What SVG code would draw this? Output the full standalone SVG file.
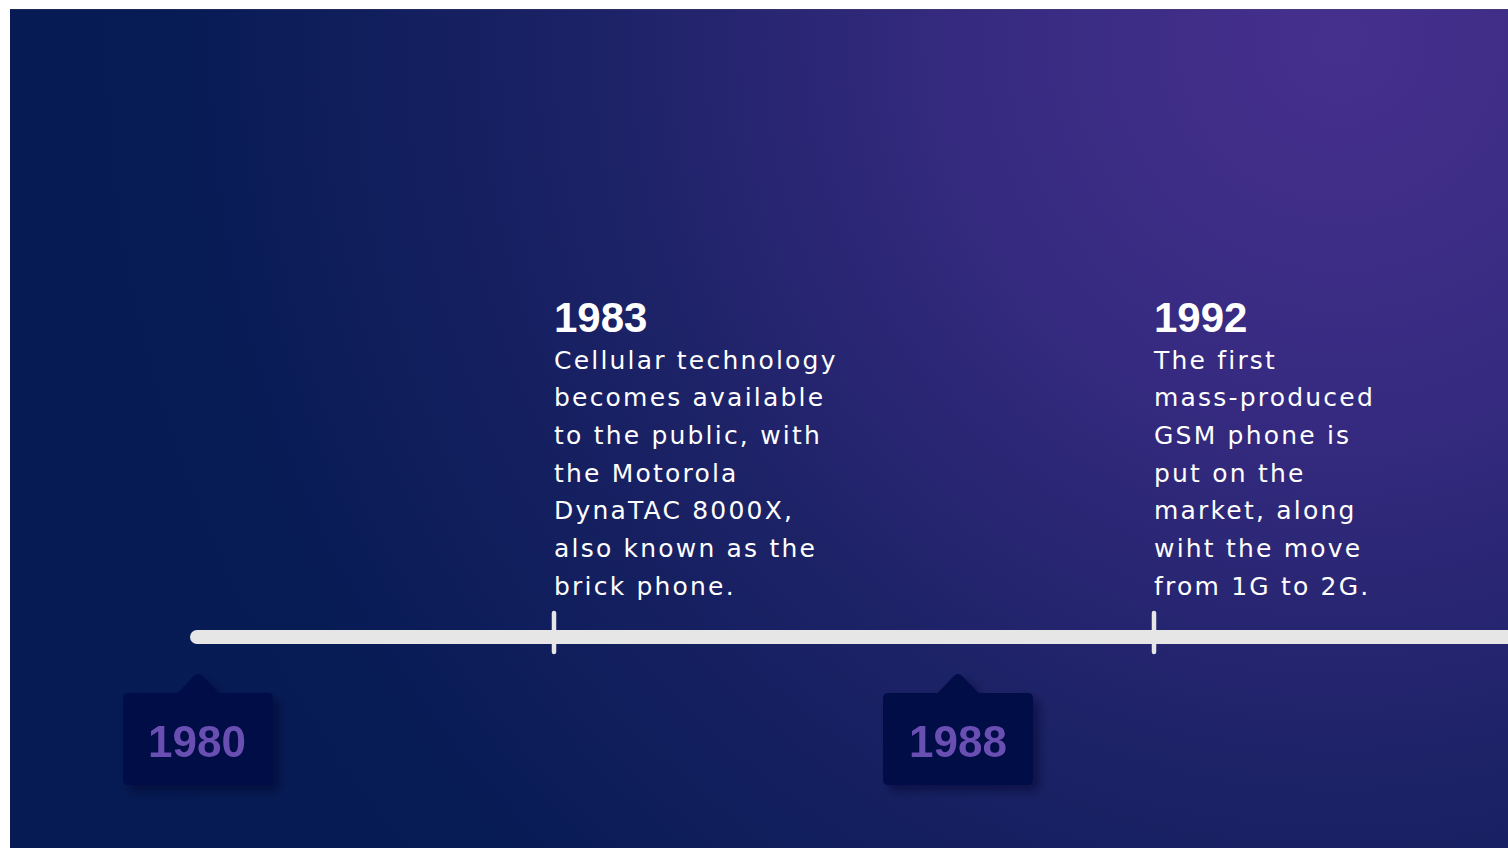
<svg xmlns="http://www.w3.org/2000/svg" width="1508" height="848" viewBox="0 0 1508 848">
<defs>
<radialGradient id="bg" gradientUnits="userSpaceOnUse" cx="1340" cy="40" r="1500">
<stop offset="0" stop-color="#46308e"/>
<stop offset="0.25" stop-color="#362a80"/>
<stop offset="0.5" stop-color="#1c2266"/>
<stop offset="0.78" stop-color="#071b55"/>
<stop offset="1" stop-color="#061a53"/>
</radialGradient>
<filter id="sh" x="-30%" y="-30%" width="160%" height="160%">
<feDropShadow dx="6" dy="6" stdDeviation="5" flood-color="#000020" flood-opacity="0.45"/>
</filter>
</defs>
<style>
.title{font-family:"Liberation Sans",Arial,sans-serif;font-weight:bold;font-size:42px;fill:#ffffff}
.body{font-family:"DejaVu Sans",sans-serif;font-size:25px;letter-spacing:2.2px;fill:#ffffff}
.box{fill:#020a46}
.lbl{font-family:"Liberation Sans",Arial,sans-serif;font-weight:bold;font-size:44px;fill:#6a4fb3;text-anchor:middle}
.tick{stroke:#e6e6e6;stroke-width:4.5;stroke-linecap:round}
</style>
<rect x="0" y="0" width="1508" height="848" fill="#ffffff"/>
<rect x="10" y="9" width="1498" height="839" fill="url(#bg)"/>
<line x1="10" y1="9.3" x2="1508" y2="9.3" stroke="#555" stroke-width="0.6" opacity="0.6"/>

<g id="connectors">
<rect x="190" y="630" width="1330" height="14" rx="7" fill="#e6e6e6"/>
<line class="tick" x1="554" y1="613" x2="554" y2="652"/>
<line class="tick" x1="1154" y1="613" x2="1154" y2="652"/>
</g>

<g id="node-1980" filter="url(#sh)">
<path class="box" d="M176.5,694 L194,676 Q198,672 202,676 L219.5,694 Z"/>
<rect class="box" x="123" y="693" width="150" height="92" rx="5"/>
<text class="lbl" x="197" y="757">1980</text>
</g>

<g id="node-1988" filter="url(#sh)">
<path class="box" d="M936.5,694 L954,676 Q958,672 962,676 L979.5,694 Z"/>
<rect class="box" x="883" y="693" width="150" height="92" rx="5"/>
<text class="lbl" x="958" y="757">1988</text>
</g>

<g id="node-1983">
<text class="title" x="554" y="332">1983</text>
<text class="body" x="554" y="368.5">Cellular technology</text>
<text class="body" x="554" y="406">becomes available</text>
<text class="body" x="554" y="443.8">to the public, with</text>
<text class="body" x="554" y="481.5">the Motorola</text>
<text class="body" x="554" y="519">DynaTAC 8000X,</text>
<text class="body" x="554" y="556.8">also known as the</text>
<text class="body" x="554" y="594.5">brick phone.</text>
</g>

<g id="node-1992">
<text class="title" x="1154" y="332">1992</text>
<text class="body" x="1154" y="368.5">The first</text>
<text class="body" x="1154" y="406">mass-produced</text>
<text class="body" x="1154" y="443.8">GSM phone is</text>
<text class="body" x="1154" y="481.5">put on the</text>
<text class="body" x="1154" y="519">market, along</text>
<text class="body" x="1154" y="556.8">wiht the move</text>
<text class="body" x="1154" y="594.5">from 1G to 2G.</text>
</g>
</svg>
